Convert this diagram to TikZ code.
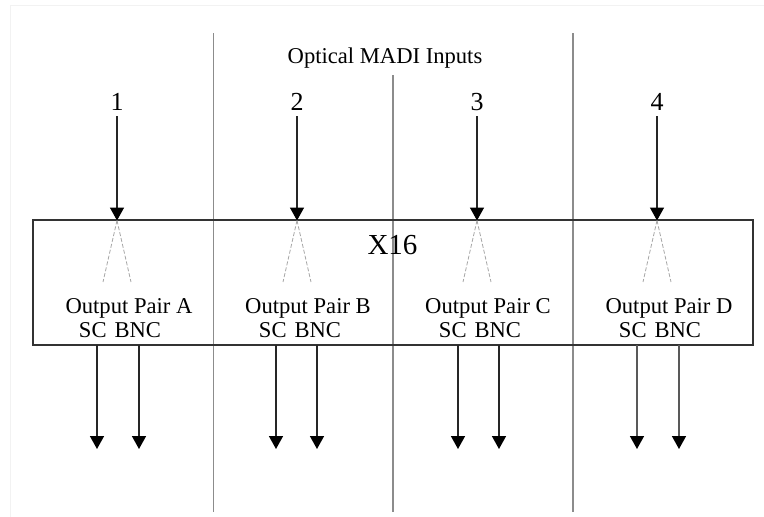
\documentclass[tikz,border=0pt]{standalone}
\usepackage{fontspec}
\setmainfont{Liberation Serif}
\usetikzlibrary{arrows.meta}
\tikzset{
  lbl/.style={inner sep=0pt, anchor=base, font=\fontsize{22.6}{26}\selectfont},
  numlbl/.style={inner sep=0pt, anchor=base, font=\fontsize{26}{30}\selectfont},
  bigbox/.style={draw=black!80, line width=1.6pt, minimum width=720pt, minimum height=125pt, inner sep=0pt},
  divider/.style={draw=black!45, line width=1.3pt},
  inarrow/.style={draw=black!85, line width=1.5pt, -{Triangle[width=14pt,length=13pt,color=black]}},
  outarrow/.style={line width=1.5pt, -{Triangle[width=14pt,length=13pt,color=black]}},
  splitleg/.style={draw=black!35, dashed, dash pattern=on 4pt off 2pt, line width=0.8pt},
  frameline/.style={draw=black!5, line width=1pt}
}
\begin{document}
\begin{tikzpicture}[x=1pt,y=-1pt]
\useasboundingbox (0,0) rectangle (764,517);
% faint scan frame
\coordinate (fTL) at (10,5);
\coordinate (fTR) at (764,5);
\coordinate (fBL) at (10,517);
\draw[frameline] (fBL) -- (fTL) -- (fTR);

% dividers
\coordinate (d1t) at (213.5,33); \coordinate (d1b) at (213.5,512);
\coordinate (d2t) at (393,75);   \coordinate (d2b) at (393,512);
\coordinate (d3t) at (573,33);   \coordinate (d3b) at (573,512);
\draw[divider] (d1t) -- (d1b);
\draw[divider] (d2t) -- (d2b);
\draw[divider] (d3t) -- (d3b);

% main box
\node[bigbox] (box) at (393,282.5) {};
\node[inner sep=0pt, anchor=base, font=\fontsize{29}{33}\selectfont] (x16) at (392.5,254) {X16};

\node[lbl] (title) at (385,63) {Optical MADI Inputs};

% channels
\foreach \i/\xin/\name/\xo/\xs/\xa/\xb/\gr in {1/117/A/129/120/97/139/85, 2/297/B/308/300/276/317/85, 3/477/C/488/480/458/499/85, 4/657/D/669/660/637/679/65}{
  \node[numlbl] (n\i) at (\xin,110) {\i};
  \coordinate (s\i) at (\xin,116);
  \coordinate (t\i) at (\xin,220.5);
  \draw[inarrow] (s\i) -- (t\i);
  \coordinate (l\i) at ({\xin-14},282);
  \coordinate (r\i) at ({\xin+14},282);
  \draw[splitleg] (t\i) -- (l\i);
  \draw[splitleg] (t\i) -- (r\i);
  \node[lbl] (op\i) at (\xo,313) {Output Pair \name};
  \node[lbl] (sb\i) at (\xs,337) {SC\hspace{0.35em}BNC};
  \coordinate (oa\i) at (\xa,345);
  \coordinate (ea\i) at (\xa,449);
  \coordinate (ob\i) at (\xb,345);
  \coordinate (eb\i) at (\xb,449);
  \draw[outarrow, draw=black!\gr] (oa\i) -- (ea\i);
  \draw[outarrow, draw=black!\gr] (ob\i) -- (eb\i);
}
\end{tikzpicture}
\end{document}
